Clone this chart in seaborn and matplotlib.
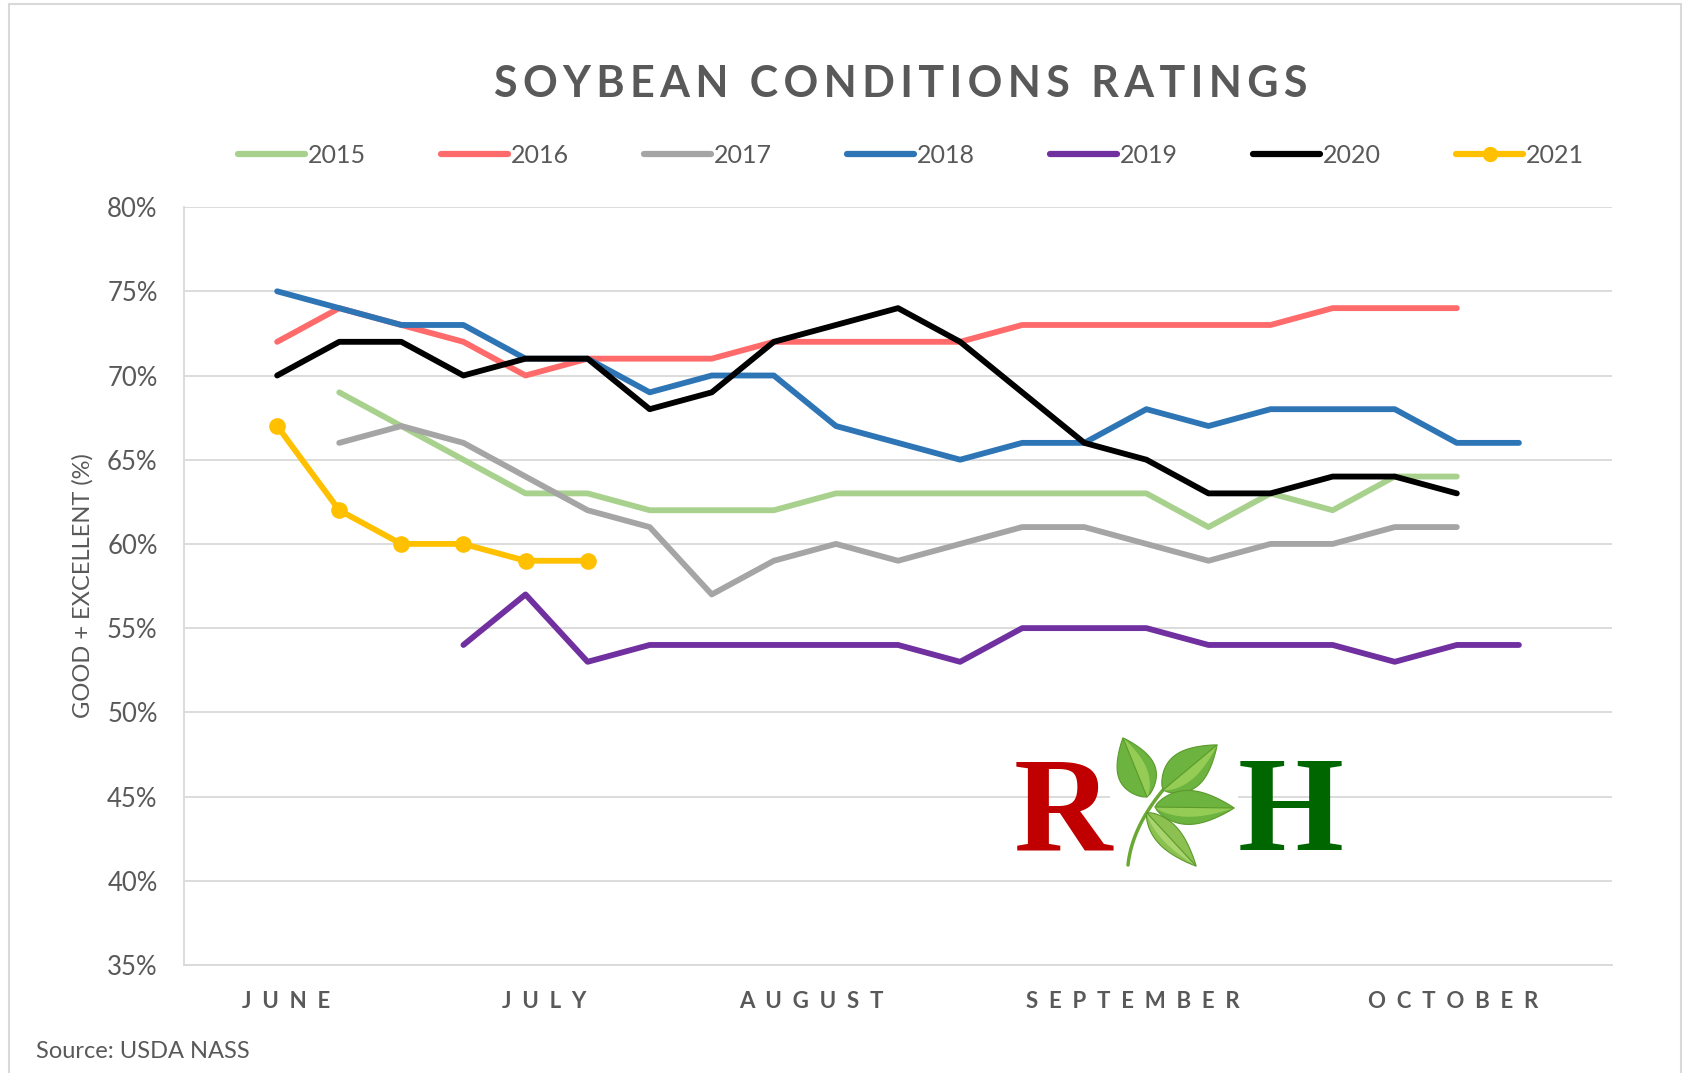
import numpy as np
import pandas as pd
import matplotlib.pyplot as plt
import seaborn as sns
from matplotlib.lines import Line2D
from matplotlib.patches import Polygon, Rectangle

nan = np.nan

# weekly crop progress reports, early June -> mid October
weeks = list(range(1, 22))
years = ["2015", "2016", "2017", "2018", "2019", "2020", "2021"]

y2015 = [nan, 69, 67, 65, 63, 63, 62, 62, 62, 63, 63, 63, 63, 63, 63, 61, 63, 62, 64, 64, nan]
y2016 = [72, 74, 73, 72, 70, 71, 71, 71, 72, 72, 72, 72, 73, 73, 73, 73, 73, 74, 74, 74, nan]
y2017 = [nan, 66, 67, 66, 64, 62, 61, 57, 59, 60, 59, 60, 61, 61, 60, 59, 60, 60, 61, 61, nan]
y2018 = [75, 74, 73, 73, 71, 71, 69, 70, 70, 67, 66, 65, 66, 66, 68, 67, 68, 68, 68, 66, 66]
y2019 = [nan, nan, nan, 54, 57, 53, 54, 54, 54, 54, 54, 53, 55, 55, 55, 54, 54, 54, 53, 54, 54]
y2020 = [70, 72, 72, 70, 71, 71, 68, 69, 72, 73, 74, 72, 69, 66, 65, 63, 63, 64, 64, 63, nan]
y2021 = [67, 62, 60, 60, 59, 59] + [nan] * 15

months = ["JUNE", "JULY", "AUGUST", "SEPTEMBER", "OCTOBER"]
month_pos = [1.15, 5.3, 9.6, 14.78, 19.94]

colors = ["#A9D18E", "#FF6B6B", "#A5A5A5", "#2E75B6", "#7030A0", "#000000", "#FFC000"]

df = pd.DataFrame({"week": weeks, "2015": y2015, "2016": y2016, "2017": y2017,
                   "2018": y2018, "2019": y2019, "2020": y2020, "2021": y2021})

sns.set_theme(style="white")
plt.rcParams["font.family"] = ["Lato", "DejaVu Sans"]
grey = "#595959"

fig = plt.figure(figsize=(16.96, 10.73), dpi=100)
ax = fig.add_axes([0.1085, 0.1007, 0.842, 0.7063])

for yr, c in zip(years, colors):
    d = df[["week", yr]].dropna()
    if yr == "2021":
        sns.lineplot(data=d, x="week", y=yr, ax=ax, color=c, lw=4.2, marker="o",
                     markersize=12, markeredgewidth=0, zorder=5)
    else:
        sns.lineplot(data=d, x="week", y=yr, ax=ax, color=c, lw=4.2, zorder=3)

ax.set_xlim(-0.5, 22.5)
ax.set_ylim(35, 80)
ax.set_yticks(range(35, 81, 5))
ax.set_yticklabels([f"{v}%" for v in range(35, 81, 5)])
ax.set_xticks(month_pos)
ax.set_xticklabels(["  ".join(m) for m in months], fontweight="bold")
ax.tick_params(axis="x", length=0, pad=19, labelsize=16, labelcolor=grey)
ax.tick_params(axis="y", length=0, pad=19, labelsize=18.5, labelcolor=grey)
ax.set_xlabel("")
ax.set_ylabel("GOOD + EXCELLENT (%)", fontsize=17, color=grey, labelpad=10)
ax.grid(axis="y", color="#D9D9D9", lw=1.3)
for s in ["top", "right"]:
    ax.spines[s].set_visible(False)
for s in ["left", "bottom"]:
    ax.spines[s].set_color("#D9D9D9")
    ax.spines[s].set_linewidth(1.3)

title = "\u2009".join("SOYBEAN CONDITIONS RATINGS")
fig.text(0.531, 0.922, title, ha="center", va="center",
         fontsize=31, fontweight="bold", color=grey)

handles = []
for yr, c in zip(years, colors):
    if yr == "2021":
        handles.append(Line2D([], [], color=c, lw=4.5, marker="o", markersize=10))
    else:
        handles.append(Line2D([], [], color=c, lw=4.5))
fig.legend(handles, years, loc="center", bbox_to_anchor=(0.537, 0.855), ncol=7,
           frameon=False, fontsize=18, handlelength=2.7, handletextpad=0.1,
           columnspacing=3.0, labelcolor=grey)

fig.text(0.021, 0.02, "Source: USDA NASS", fontsize=17, color=grey, ha="left", va="center")

# outer chart frame
fig.add_artist(Rectangle((9 / 1696, -0.02), 1672 / 1696, 1.0 - 4 / 1073 + 0.02,
                         transform=fig.transFigure, fill=False, edgecolor="#D9D9D9", lw=1.5))

# R + H logo
fig.text(1063 / 1696, 1 - 850 / 1073, "R", ha="center", va="baseline", fontsize=98,
         fontweight="bold", family="Liberation Serif", color="#C00000")
fig.text(1291 / 1696, 1 - 850 / 1073, "H", ha="center", va="baseline", fontsize=98,
         fontweight="bold", family="Liberation Serif", color="#006600")

lx0, lx1, ly0, ly1 = 1110, 1238, 733, 868
lax = fig.add_axes([lx0 / 1696, 1 - ly1 / 1073, (lx1 - lx0) / 1696, (ly1 - ly0) / 1073])
lax.set_xlim(lx0, lx1)
lax.set_ylim(ly1, ly0)
lax.axis("off")
lax.add_patch(Rectangle((lx0, ly0), lx1 - lx0, ly1 - ly0, color="white", zorder=0))
t = np.linspace(0, 1, 30)
lax.plot(1128 + 8 * t + 27 * t ** 2, 865 - 75 * t, color="#6AA834", lw=2.5, zorder=1)


def leaf(base, tip, width, face, light):
    b, p = np.array(base, float), np.array(tip, float)
    u = p - b
    n = np.array([-u[1], u[0]]) / np.hypot(*u)
    s = np.linspace(0, 1, 40)
    half = width / 2 * np.sin(np.pi * s ** 0.8) ** 0.9
    side1 = b + np.outer(s, u) + np.outer(half, n)
    side2 = b + np.outer(s, u) - np.outer(half, n)
    lax.add_patch(Polygon(np.vstack([side1, side2[::-1]]), closed=True, facecolor=face,
                          edgecolor="#5A9A2A", lw=0.8, zorder=2))
    inner = b + np.outer(s, u) + np.outer(half * 0.55, n)
    lax.add_patch(Polygon(np.vstack([inner, (b + np.outer(s, u))[::-1]]), closed=True,
                          facecolor=light, edgecolor="none", zorder=2))
    lax.plot([b[0], p[0]], [b[1], p[1]], color="#5A9A2A", lw=0.8, zorder=3)


leaf((1147, 797), (1123, 738), 38, "#6DB33F", "#94CC55")
leaf((1163, 790), (1217, 745), 38, "#6DB33F", "#94CC55")
leaf((1155, 807), (1234, 808), 34, "#6DB33F", "#94CC55")
leaf((1147, 813), (1196, 866), 24, "#8CC152", "#A9D46E")

fig.savefig("out.png", dpi=100, facecolor="white")
